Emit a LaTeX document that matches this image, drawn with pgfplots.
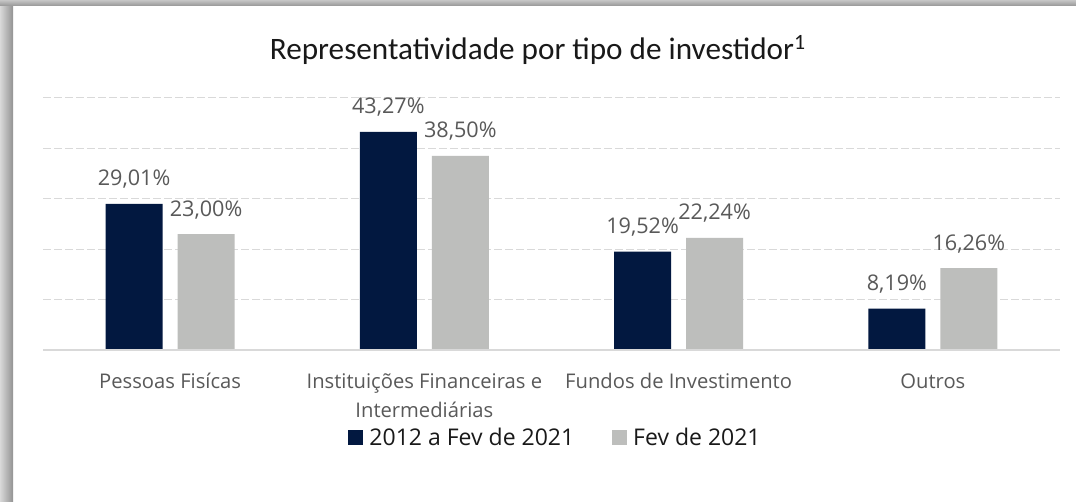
\documentclass[border=0pt]{standalone}
\usepackage{pgfplots}
\pgfplotsset{compat=1.18}
\usepackage{fontspec}
\setmainfont{Open Sans}
\newfontfamily\titlefont{Carlito}
\definecolor{navy}{HTML}{021840}
\definecolor{lgray}{HTML}{BDBEBC}
\definecolor{txt}{HTML}{595959}
\definecolor{gridc}{HTML}{D9D9D9}
\begin{document}
\begin{tikzpicture}[x=1pt,y=1pt]
% page = 1076x502 px at 0.5pt per px, plot area lower left at origin
\useasboundingbox (-21.5,-76) rectangle (516.5,175);
\fill[white] (-21.5,-76) rectangle (516.5,175);
% shadow frame on the left and top
\shade[left color=gray!30, right color=gray!85] (-21.5,-76) rectangle (-15,175);
\shade[top color=gray!45, bottom color=gray!80] (-21.5,172.2) rectangle (516.5,175);

\node[font=\titlefont\fontsize{15.6}{18}\selectfont, anchor=base, text=black!90]
  at (247.5,145) {Representatividade por tipo de investidor\textsuperscript{1}};

\begin{axis}[
    scale only axis,
    width=508.5pt, height=126pt,
    clip=false,
    ybar=7.5pt,
    bar width=28.5pt,
    xmin=-0.5, xmax=3.5,
    ymin=0, ymax=50,
    xtick={0,1,2,3},
    xticklabels={Pessoas Fisícas, {Instituições Financeiras e\\Intermediárias}, Fundos de Investimento, Outros},
    ytick={0,10,...,50},
    yticklabels={},
    major tick length=0pt,
    axis line style={draw=none},
    ymajorgrids,
    grid style={gridc, line width=0.5pt, dash pattern=on 4pt off 1.5pt},
    xticklabel style={align=center, text=txt, font=\fontsize{10.1}{14.5}\selectfont, anchor=north, inner sep=0pt, yshift=-11.5pt},
    /pgf/number format/assume math mode=true,
    nodes near coords={\pgfmathprintnumber[fixed,fixed zerofill,precision=2,use comma]{\pgfplotspointmeta}\%},
    every node near coord/.append style={font=\fontsize{10.8}{13}\selectfont, text=txt, anchor=base, yshift=9pt, inner sep=0pt},
    legend style={at={(0.5030,-0.349)}, anchor=center, draw=none, fill=none,
        legend columns=2, font=\fontsize{11.5}{14}\selectfont, text=black!90,
        nodes={inner sep=0pt},
        /tikz/every odd column/.append style={column sep=3pt},
        /tikz/every even column/.append style={column sep=19pt}},
    legend image code/.code={\fill[#1] (0pt,-3.5pt) rectangle (7.5pt,4pt);},
]
\addplot[fill=navy, draw=none] coordinates {(0,29.01) (1,43.27) (2,19.52) (3,8.19)};
\addplot[fill=lgray, draw=none] coordinates {(0,23.00) (1,38.50) (2,22.24) (3,16.26)};
\legend{2012 a Fev de 2021, Fev de 2021}
\draw[gridc, line width=0.75pt] (axis cs:-0.5,0) -- (axis cs:3.5,0);
\end{axis}
\end{tikzpicture}
\end{document}
